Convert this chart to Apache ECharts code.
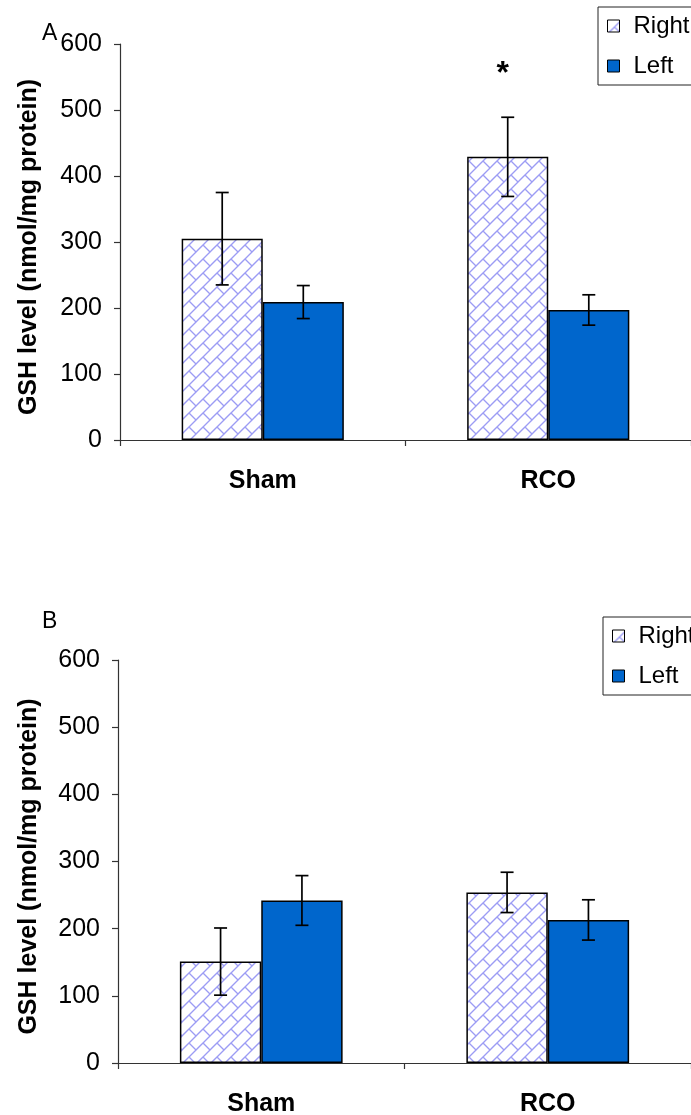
<!DOCTYPE html>
<html>
<head>
<meta charset="utf-8">
<script src="https://cdn.jsdelivr.net/npm/echarts@6/dist/echarts.min.js"></script>
<style>
  html, body { margin: 0; padding: 0; background: #ffffff; }
  #chart { width: 691px; height: 1115px; }
</style>
</head>
<body>
<div id="chart"></div>
<script>
// GSH level (nmol/mg protein), mean ± SE
const categories = ['Sham', 'RCO'];
const seriesNames = ['Right', 'Left'];
const yTickValues = [0, 100, 200, 300, 400, 500, 600];

// Panel A
const rightA = [305, 429];
const rightErrA = [70, 60];
const leftA = [209, 197];
const leftErrA = [25, 23];
const sigA = ['', '*'];

// Panel B
const rightB = [151, 254];
const rightErrB = [50, 30];
const leftB = [242, 213];
const leftErrB = [37, 30];
const sigB = ['', ''];

const FONT = '"Liberation Sans", Arial, sans-serif';
const BAR_RATIO = 0.284;
const LEFT_BLUE = '#0066cc';

// light blue brick hatch used for the Right bars
function brickTile() {
  const s = 14;
  const c = document.createElement('canvas');
  c.width = s; c.height = s;
  const g = c.getContext('2d');
  g.fillStyle = '#ffffff';
  g.fillRect(0, 0, s, s);
  g.strokeStyle = '#9c9cf4';
  g.lineWidth = 1.4;
  g.beginPath();
  g.moveTo(-1, s + 1); g.lineTo(s + 1, -1);
  g.moveTo(s / 2, s / 2); g.lineTo(s + 1, s + 1);
  g.moveTo(-1, -1); g.lineTo(0.5, 0.5);
  g.stroke();
  return c;
}
const hatch = { image: brickTile(), repeat: 'repeat' };

function errorSeries(idx, means, errs, side, marks) {
  return {
    type: 'custom',
    xAxisIndex: idx,
    yAxisIndex: idx,
    z: 5,
    silent: true,
    data: means.map((m, i) => [i, m, errs[i]]),
    renderItem(params, api) {
      const i = api.value(0), m = api.value(1), e = api.value(2);
      const band = api.size([1, 0])[0];
      const x = api.coord([i, m])[0] + side * band * BAR_RATIO / 2;
      const top = api.coord([i, m + e])[1];
      const bot = api.coord([i, m - e])[1];
      const cap = 6.5;
      const st = { stroke: '#000', lineWidth: 1.7 };
      const children = [
        { type: 'line', shape: { x1: x, y1: top, x2: x, y2: bot }, style: st },
        { type: 'line', shape: { x1: x - cap, y1: top, x2: x + cap, y2: top }, style: st },
        { type: 'line', shape: { x1: x - cap, y1: bot, x2: x + cap, y2: bot }, style: st }
      ];
      if (marks && marks[i]) {
        children.push({
          type: 'text',
          style: {
            text: marks[i], x: x - 5, y: top - 43,
            align: 'center', verticalAlign: 'middle',
            font: 'bold 32px ' + FONT, fill: '#000'
          }
        });
      }
      return { type: 'group', children };
    }
  };
}

function barSeries(idx, name, values, color) {
  return {
    type: 'bar',
    name,
    xAxisIndex: idx,
    yAxisIndex: idx,
    data: values,
    barWidth: (BAR_RATIO * 100) + '%',
    barGap: '0%',
    itemStyle: { color, borderColor: '#000', borderWidth: 1.5 },
    emphasis: { disabled: true }
  };
}

function xAxis(idx) {
  return {
    type: 'category',
    gridIndex: idx,
    data: categories,
    axisLine: { lineStyle: { color: '#333', width: 1.2 } },
    axisTick: { show: true, length: 6, lineStyle: { color: '#333', width: 1.2 } },
    axisLabel: { color: '#000', fontFamily: FONT, fontWeight: 'bold', fontSize: 25, margin: 29 }
  };
}

function yAxis(idx, gap) {
  return {
    type: 'value',
    gridIndex: idx,
    min: yTickValues[0],
    max: yTickValues[yTickValues.length - 1],
    interval: yTickValues[1] - yTickValues[0],
    name: 'GSH level (nmol/mg protein)',
    nameLocation: 'middle',
    nameRotate: 90,
    nameGap: gap,
    nameTextStyle: { color: '#000', fontFamily: FONT, fontWeight: 'bold', fontSize: 25, padding: [0, 10, 0, 0] },
    splitLine: { show: false },
    axisLine: { show: true, lineStyle: { color: '#333', width: 1.2 } },
    axisTick: { show: true, length: 6, lineStyle: { color: '#333', width: 1.2 } },
    axisLabel: { color: '#000', fontFamily: FONT, fontSize: 25, margin: 18 }
  };
}

function legend(left, top) {
  return {
    orient: 'vertical',
    left, top,
    data: seriesNames,
    borderColor: '#222',
    borderWidth: 1,
    padding: [7, 30, 7, 9],
    itemWidth: 12,
    itemHeight: 12,
    itemGap: 16,
    icon: 'rect',
    selectedMode: false,
    itemStyle: { borderColor: '#000', borderWidth: 1 },
    textStyle: { color: '#000', fontFamily: FONT, fontSize: 24, padding: [0, 0, 0, 9] }
  };
}

const chart = echarts.init(document.getElementById('chart'), null, { renderer: 'canvas' });
chart.setOption({
  animation: false,
  backgroundColor: '#ffffff',
  title: [
    { text: 'A', left: 42, top: 22, padding: 0, textStyle: { fontFamily: FONT, fontWeight: 'normal', fontSize: 23, color: '#000' } },
    { text: 'B', left: 42, top: 610, padding: 0, textStyle: { fontFamily: FONT, fontWeight: 'normal', fontSize: 23, color: '#000' } }
  ],
  legend: [legend(598, 7), legend(603, 617)],
  grid: [
    { left: 120, top: 44, right: 0, height: 396, outerBoundsMode: 'none' },
    { left: 118, top: 660, right: 0, height: 403, outerBoundsMode: 'none' }
  ],
  xAxis: [xAxis(0), xAxis(1)],
  yAxis: [yAxis(0, 78), yAxis(1, 76)],
  series: [
    barSeries(0, 'Right', rightA, hatch),
    barSeries(0, 'Left', leftA, LEFT_BLUE),
    errorSeries(0, rightA, rightErrA, -1, sigA),
    errorSeries(0, leftA, leftErrA, 1, null),
    barSeries(1, 'Right', rightB, hatch),
    barSeries(1, 'Left', leftB, LEFT_BLUE),
    errorSeries(1, rightB, rightErrB, -1, sigB),
    errorSeries(1, leftB, leftErrB, 1, null)
  ]
});
</script>
</body>
</html>
